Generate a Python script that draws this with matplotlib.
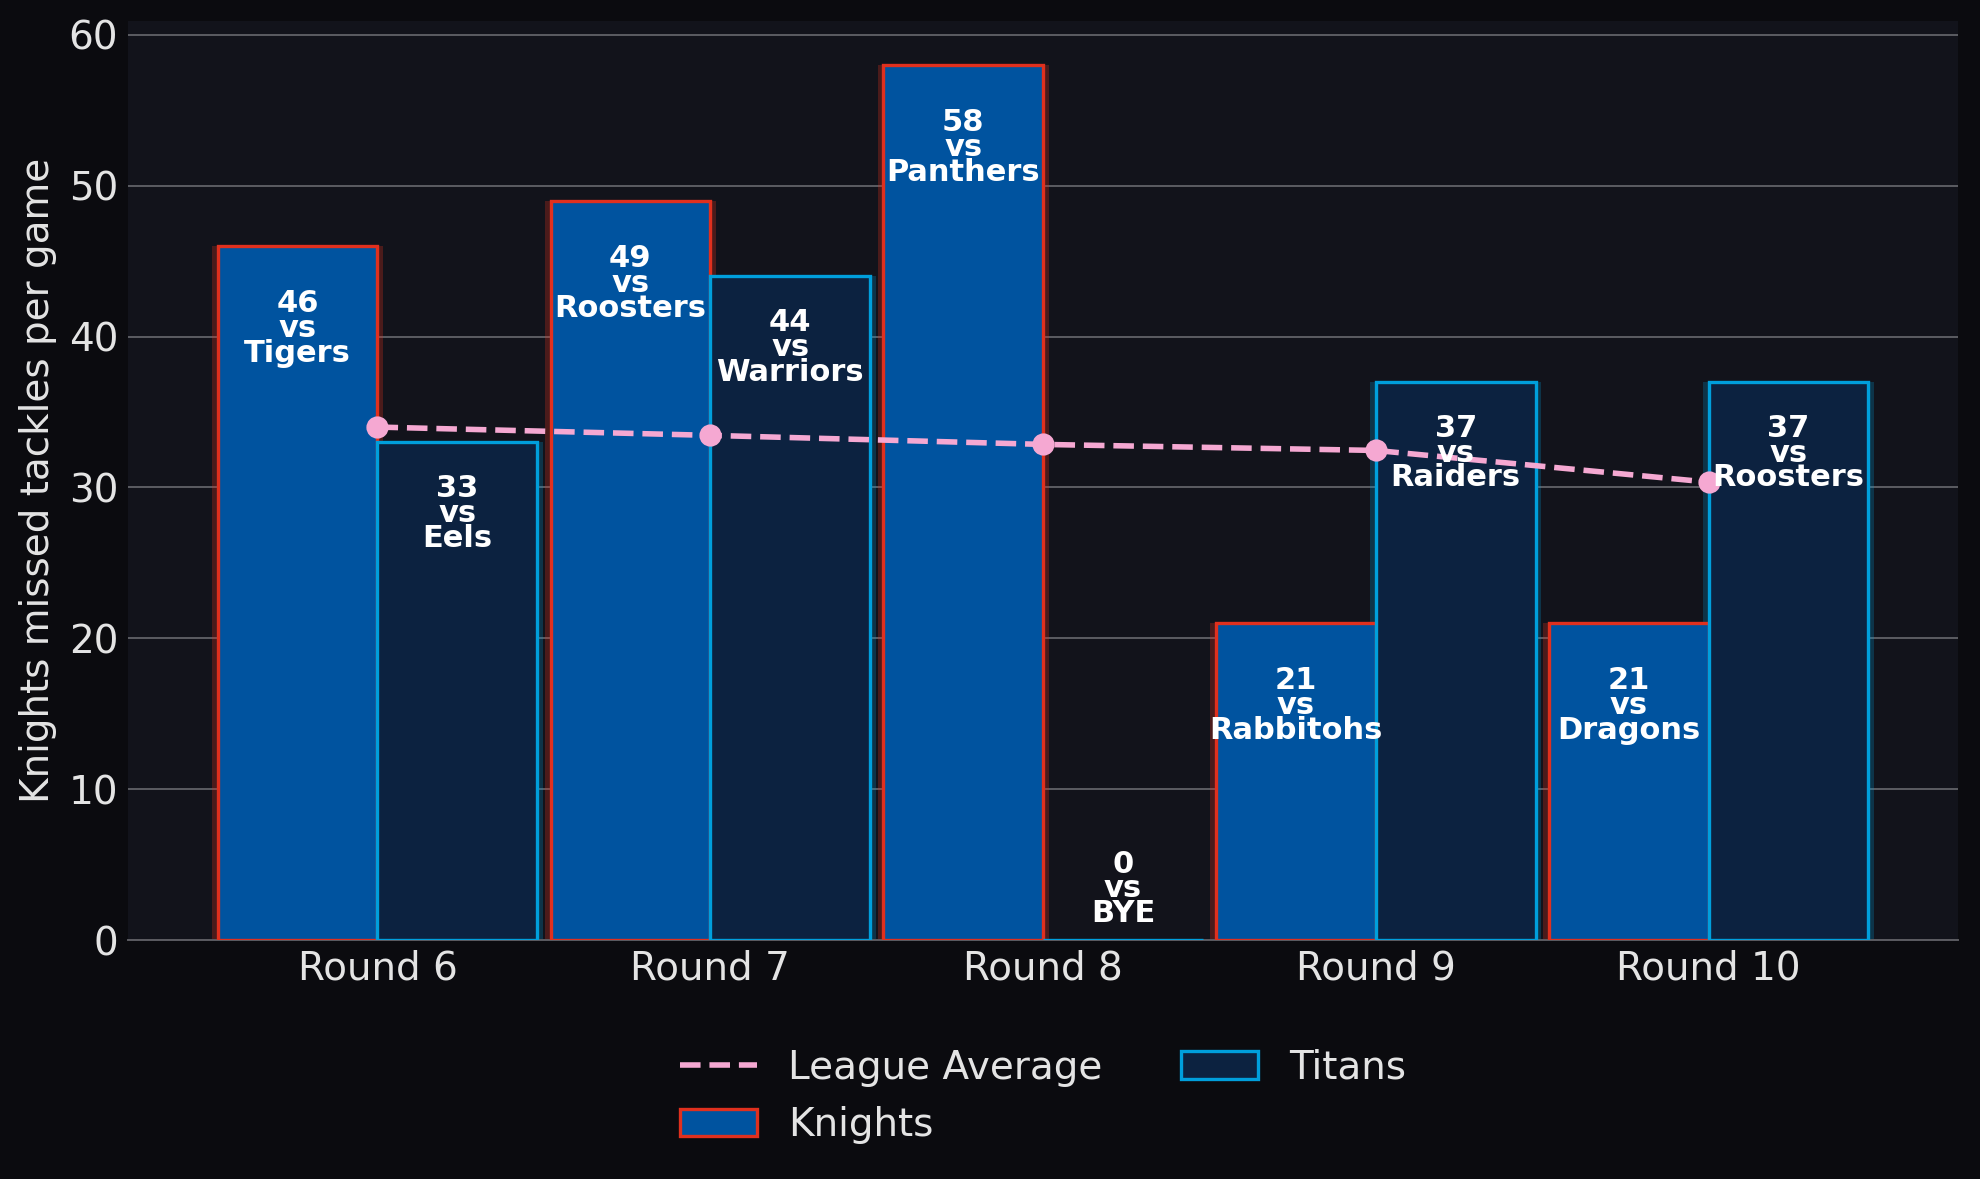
import numpy as np
import matplotlib
matplotlib.use("Agg")
from matplotlib import pyplot as plt

rounds = ["Round 6", "Round 7", "Round 8", "Round 9", "Round 10"]
knights = [46, 49, 58, 21, 21]
titans = [33, 44, 0, 37, 37]
knights_opp = ["Tigers", "Roosters", "Panthers", "Rabbitohs", "Dragons"]
titans_opp = ["Eels", "Warriors", "BYE", "Raiders", "Roosters"]
league_avg = [34.0, 33.45, 32.85, 32.45, 30.35]

fig_bg = "#0b0b0f"
ax_bg = "#12131b"
text_col = "#e4e4e4"
k_fill, k_edge = "#00539f", "#e0301e"
t_fill, t_edge = "#0c2240", "#009fdc"
pink = "#f5a8d2"

def main():
    fig, ax = plt.subplots(figsize=(9.9, 5.895), dpi=200)
    fig.patch.set_facecolor(fig_bg)
    ax.set_facecolor(ax_bg)
    fig.subplots_adjust(left=0.0646, right=0.989, bottom=0.2027, top=0.982)

    x = np.arange(len(rounds))
    w = 0.48

    # soft glow behind bars
    ax.bar(x - w / 2, knights, width=w + 0.035, color=k_edge, alpha=0.28, zorder=2)
    ax.bar(x + w / 2, titans, width=w + 0.035, color=t_edge, alpha=0.24, zorder=2)

    ax.bar(x - w / 2, knights, width=w, color=k_fill, edgecolor=k_edge,
           linewidth=1.2, label="Knights", zorder=3)
    ax.bar(x + w / 2, titans, width=w, color=t_fill, edgecolor=t_edge,
           linewidth=1.2, label="Titans", zorder=3)

    ax.plot(x, league_avg, color=pink, linestyle="--", linewidth=2,
            label="League Average", zorder=5)
    ax.plot(x, league_avg, color=pink, linestyle="none", marker="o",
            markersize=7, zorder=6)

    for xi, v, opp in zip(x - w / 2, knights, knights_opp):
        ax.annotate(f"{v}\nvs\n{opp}", (xi, v), xytext=(0, -15.5),
                    textcoords="offset points", ha="center", va="top",
                    color="white", fontsize=11, fontweight="bold",
                    linespacing=0.82, zorder=7)
    for xi, v, opp in zip(x + w / 2, titans, titans_opp):
        if v > 0:
            ax.annotate(f"{v}\nvs\n{opp}", (xi, v), xytext=(0, -11.5),
                        textcoords="offset points", ha="center", va="top",
                        color="white", fontsize=11, fontweight="bold",
                        linespacing=0.82, zorder=7)
        else:
            ax.annotate(f"{v}\nvs\n{opp}", (xi, v), xytext=(0, 4.2),
                        textcoords="offset points", ha="center", va="bottom",
                        color="white", fontsize=11, fontweight="bold",
                        linespacing=0.82, zorder=7)

    ax.set_xlim(-0.75, 4.75)
    ax.set_ylim(0, 60.9)
    ax.set_xticks(x)
    ax.set_xticklabels(rounds)
    ax.set_yticks(range(0, 61, 10))
    ax.tick_params(colors=text_col, labelsize=14, length=0, pad=3.5)
    ax.set_ylabel("Knights missed tackles per game", color=text_col, fontsize=14)

    ax.yaxis.grid(True, color="#5c5c62", linewidth=0.7, zorder=0)
    ax.set_axisbelow(True)
    for s in ["left", "right", "top"]:
        ax.spines[s].set_visible(False)
    ax.spines["bottom"].set_color("#5c5c62")
    ax.spines["bottom"].set_linewidth(0.7)

    handles, labels = ax.get_legend_handles_labels()
    order = [labels.index(l) for l in ["League Average", "Knights", "Titans"]]
    leg = ax.legend([handles[i] for i in order], [labels[i] for i in order],
                    loc="upper center", bbox_to_anchor=(0.5, -0.08), ncol=2,
                    frameon=False, fontsize=14)
    for t in leg.get_texts():
        t.set_color(text_col)

    fig.savefig("out.png", facecolor=fig_bg)


if __name__ == "__main__":
    main()
